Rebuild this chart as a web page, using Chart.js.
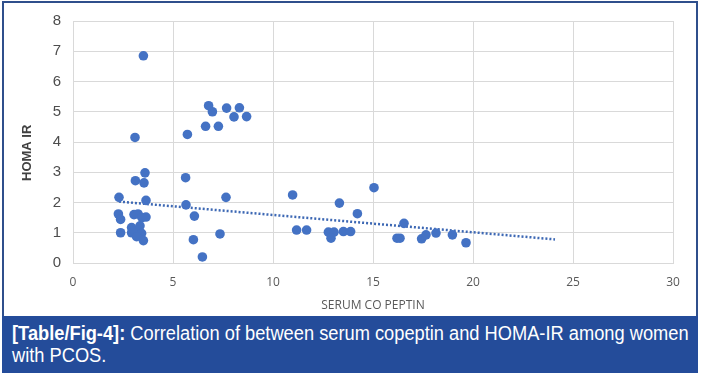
<!DOCTYPE html>
<html>
<head>
<meta charset="utf-8">
<script src="https://cdn.jsdelivr.net/npm/chart.js@4/dist/chart.umd.min.js"></script>
<style>
  html, body { margin: 0; padding: 0; background: #ffffff; }
  body { width: 701px; height: 375px; position: relative; overflow: hidden; }
  #wrap { position: absolute; left: 0; top: 0; width: 701px; height: 316px; }
  #frame { position: absolute; left: 2px; top: 1px; width: 692px; height: 320px;
           border-left: 2px solid #2f4f8c; border-top: 2px solid #2f4f8c; border-right: 2px solid #2f4f8c;
           pointer-events: none; }
  #caption { position: absolute; left: 2px; top: 316px; width: 696px; height: 57px;
             background: #244c9a; overflow: hidden; }
  #captext { position: absolute; left: 10px; top: 6px; color: #ffffff; white-space: nowrap;
             font-family: "Liberation Sans", Arial, sans-serif; font-size: 20px; line-height: 22px;
             transform: scaleX(0.913); transform-origin: 0 0; }
  #captext b { font-weight: bold; }
</style>
</head>
<body>
<div id="wrap"><canvas id="c" width="701" height="316"></canvas></div>
<div id="frame"></div>
<div id="caption"><div id="captext"><b>[Table/Fig-4]:</b> Correlation of between serum copeptin and HOMA-IR among women<br>with PCOS.</div></div>
<script>
// Serum copeptin (x) and HOMA-IR (y)
const copeptin = [
  3.52, 3.10, 5.72, 6.63, 7.27, 6.78, 6.97, 7.68, 8.32, 8.05, 8.68,
  3.60, 3.12, 3.55, 5.63, 2.30, 3.65, 7.65, 5.65, 2.27, 2.38, 3.05, 3.25, 3.45, 3.65, 6.07,
  2.38, 2.93, 2.93, 3.10, 3.35, 3.43, 3.18, 3.52, 7.35, 6.02, 6.47,
  10.98, 15.05, 13.32, 14.22, 11.18, 11.68, 12.77, 13.05, 12.90, 13.52, 13.88,
  16.20, 16.35, 16.55, 17.43, 17.65, 18.15, 18.97, 19.65
];
const homaIR = [
  6.85, 4.15, 4.25, 4.52, 4.52, 5.20, 5.00, 5.12, 5.13, 4.83, 4.84,
  2.98, 2.72, 2.65, 2.82, 2.17, 2.07, 2.17, 1.92, 1.62, 1.44, 1.60, 1.62, 1.50, 1.52, 1.55,
  1.00, 1.17, 1.00, 1.06, 1.23, 0.98, 0.87, 0.74, 0.96, 0.77, 0.20,
  2.25, 2.49, 1.98, 1.63, 1.09, 1.09, 1.02, 1.02, 0.82, 1.04, 1.04,
  0.82, 0.82, 1.31, 0.80, 0.93, 0.99, 0.93, 0.67
];
// Linear trendline end points
const trendX = [2.3, 24.1];
const trendY = [2.03, 0.78];
const xTicks = [0, 5, 10, 15, 20, 25, 30];
const yTicks = [0, 1, 2, 3, 4, 5, 6, 7, 8];
const xTitle = 'SERUM CO PEPTIN';
const yTitle = 'HOMA IR';

const points = copeptin.map((x, i) => ({ x: x, y: homaIR[i] }));
const trend = trendX.map((x, i) => ({ x: x, y: trendY[i] }));

new Chart(document.getElementById('c'), {
  type: 'scatter',
  data: {
    datasets: [
      {
        label: 'HOMA IR',
        data: points,
        backgroundColor: '#4472c4',
        borderWidth: 0,
        pointRadius: 4.8,
        pointHoverRadius: 4.8
      },
      {
        label: 'Linear',
        type: 'line',
        data: trend,
        showLine: true,
        borderColor: '#3d68b4',
        borderWidth: 2.5,
        borderDash: [2, 2],
        borderCapStyle: 'butt',
        pointRadius: 0,
        fill: false
      }
    ]
  },
  options: {
    responsive: false,
    animation: false,
    events: [],
    layout: { padding: { left: 0, top: 15, right: 28, bottom: 0 } },
    plugins: { legend: { display: false }, tooltip: { enabled: false } },
    scales: {
      x: {
        type: 'linear',
        min: 0, max: 30,
        afterBuildTicks: s => { s.ticks = xTicks.map(v => ({ value: v })); },
        afterFit: s => { s.height = 53; },
        grid: { color: '#d9d9d9', lineWidth: 1, drawTicks: false },
        border: { color: '#d9d9d9' },
        ticks: { color: '#595959', padding: 12, font: { family: 'Open Sans', size: 12 } },
        title: { display: true, text: xTitle, color: '#595959', padding: { top: 0, bottom: 3 },
                 font: { family: 'Open Sans', size: 12 } }
      },
      y: {
        type: 'linear',
        min: 0, max: 8,
        afterBuildTicks: s => { s.ticks = yTicks.map(v => ({ value: v })); },
        afterFit: s => { s.width = 73; },
        grid: { color: '#d9d9d9', lineWidth: 1, drawTicks: false },
        border: { color: '#d9d9d9' },
        ticks: { color: '#4d4d4d', padding: 12, font: { family: 'Liberation Sans', size: 15 } },
        title: { display: true, text: yTitle + '      ', color: '#404040', padding: { top: 20, bottom: 0 },
                 font: { family: 'Liberation Sans', size: 13, weight: 'bold' } }
      }
    }
  }
});
</script>
</body>
</html>
